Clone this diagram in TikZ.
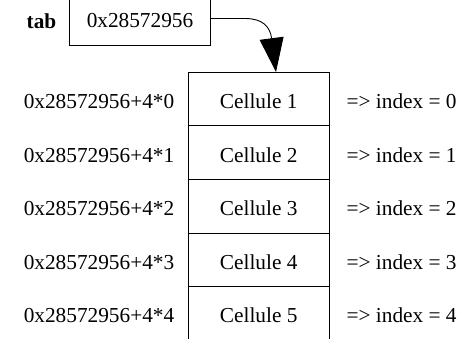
\documentclass[tikz,border=0pt]{standalone}
\usepackage{fontspec}
\setmainfont{Liberation Serif}
\newfontfamily\tms{Liberation Serif}
\usetikzlibrary{arrows.meta}
\begin{document}
\begin{tikzpicture}[x=1pt,y=1pt,
  every node/.style={font=\tms\fontsize{21.3}{25}\selectfont, inner sep=0pt},
  box/.style={draw, line width=0.8pt, minimum width=140.7pt, minimum height=53.6pt, text height=19pt, text depth=0pt},
  lbl/.style={anchor=base east},
  rlbl/.style={anchor=base west}]
\useasboundingbox (0,0) rectangle (464,-339);
\node[draw, line width=0.8pt, minimum width=140.3pt, minimum height=48pt] (tab) at (140,-21) {0x28572956};
\node[anchor=base, font=\tms\fontsize{21.3}{25}\selectfont\bfseries] (tablbl) at (41.5,-28.3) {tab};
\foreach \i in {1,...,5}{
  \pgfmathsetmacro{\yy}{-99-53.6*(\i-1)}
  \pgfmathtruncatemacro{\k}{\i-1}
  \node[box] (c\i) at (258.7,\yy) {Cellule \i};
  \node[lbl] (l\i) at ([xshift=-13.5pt,yshift=-9.5pt]c\i.west) {0x28572956+4*\k};
  \node[rlbl] (r\i) at ([xshift=17pt,yshift=-9.5pt]c\i.east) {=> index = \k};
}
\coordinate (tip) at (276,-72);
\draw[line width=0.9pt, -{Triangle[length=34pt,width=24pt]}] (tab.east |- 0,-18.5) -- (245,-18.5) .. controls (262,-18.5) and (270,-26) .. (tip);
\end{tikzpicture}
\end{document}
